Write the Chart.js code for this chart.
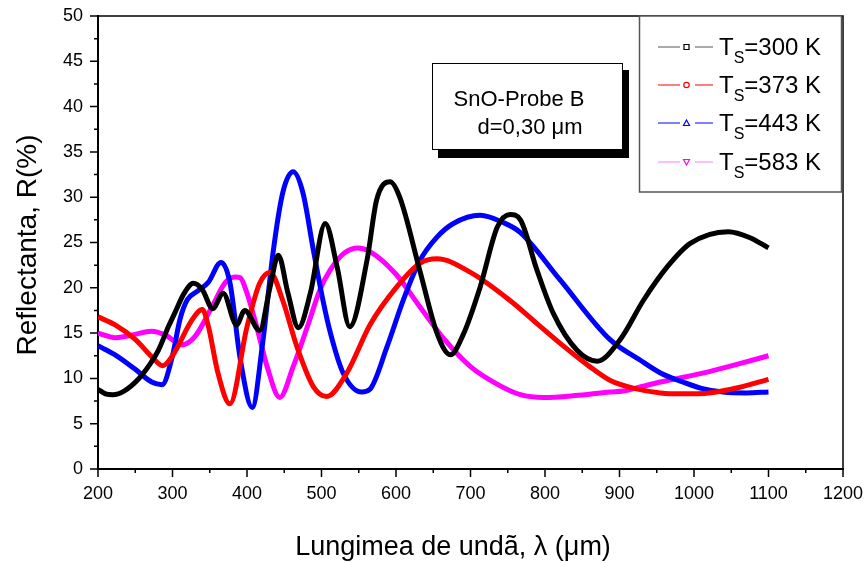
<!DOCTYPE html>
<html>
<head>
<meta charset="utf-8">
<script src="https://cdn.jsdelivr.net/npm/chart.js@4.4.1/dist/chart.umd.min.js"></script>
<style>
  html, body { margin: 0; padding: 0; background: #fff; }
  #wrap { width: 868px; height: 563px; position: relative; }
</style>
</head>
<body>
<div id="wrap"><canvas id="refl"></canvas></div>
<script>
// ---- data (wavelength, reflectance %) ----
const wl300 = [200, 210, 220, 235, 254, 270, 281, 295, 303, 315, 328, 340, 354, 368, 386, 397, 417, 431, 442, 455, 469, 485, 505, 521, 538, 561, 574, 592, 605, 632, 655, 673, 690, 713, 736, 753, 767, 789, 811, 843, 870, 901, 932, 964, 995, 1046, 1076, 1100];
const r300  = [8.8, 8.3, 8.2, 8.6, 9.9, 11.6, 13.1, 15.8, 17.2, 19.3, 20.5, 19.8, 17.7, 19.4, 15.9, 17.5, 15.3, 20.1, 23.6, 19.4, 15.6, 19.4, 27.1, 22.3, 15.7, 23.0, 29.7, 31.7, 30.0, 21.9, 15.0, 12.6, 14.8, 20.1, 26.7, 28.1, 27.5, 22.0, 17.2, 13.1, 11.9, 14.3, 18.6, 22.3, 24.9, 26.2, 25.5, 24.4];

const wl373 = [200, 223, 250, 272, 287, 300, 307, 325, 340, 348, 361, 377, 400, 417, 431, 448, 467, 489, 507, 534, 565, 601, 632, 655, 700, 753, 790, 820, 860, 887, 920, 955, 985, 1020, 1060, 1100];
const r373  = [16.8, 15.9, 14.3, 12.4, 11.4, 12.5, 13.5, 16.3, 17.6, 15.8, 10.6, 7.2, 15.7, 20.5, 21.7, 18.6, 13.5, 9.1, 8.0, 10.6, 15.9, 20.1, 22.7, 23.2, 21.7, 18.6, 16.0, 13.9, 11.3, 9.8, 8.9, 8.4, 8.3, 8.4, 9.0, 9.9];

const wl443 = [200, 223, 250, 272, 286, 300, 310, 320, 333, 348, 365, 377, 391, 407, 421, 435, 448, 462, 475, 489, 502, 512, 529, 554, 565, 588, 610, 632, 655, 677, 713, 744, 767, 820, 887, 928, 955, 985, 1010, 1039, 1070, 1100];
const r443  = [13.6, 12.6, 11.0, 9.6, 9.3, 12.5, 16.5, 18.7, 19.6, 20.6, 22.8, 20.6, 12.1, 6.8, 13.9, 23.9, 30.5, 32.8, 30.5, 24.2, 18.6, 15.0, 10.6, 8.5, 8.8, 13.5, 18.7, 23.0, 25.6, 27.1, 28.0, 27.2, 26.1, 20.9, 14.3, 12.0, 10.6, 9.6, 8.9, 8.5, 8.4, 8.5];

const wl583 = [200, 223, 246, 272, 290, 313, 330, 353, 371, 384, 391, 400, 413, 427, 444, 462, 481, 498, 512, 530, 549, 565, 600, 632, 665, 700, 735, 767, 798, 840, 887, 905, 930, 955, 1018, 1060, 1100];
const r583  = [15.0, 14.5, 14.8, 15.2, 14.8, 13.7, 14.6, 17.9, 20.6, 21.2, 21.1, 19.4, 15.7, 11.3, 7.9, 11.3, 15.7, 19.8, 22.0, 23.8, 24.4, 24.0, 21.5, 17.9, 14.3, 11.3, 9.4, 8.2, 7.9, 8.1, 8.5, 8.6, 9.1, 9.6, 10.7, 11.6, 12.5];

const seriesTemps  = ['300', '373', '443', '583'];
const seriesColors = ['#000000', '#ff0000', '#0000ff', '#ff00ff'];
const legendLines  = ['#555555', '#ff0000', '#0000ff', '#ff80ff'];
const markerShapes = ['rect', 'circle', 'triangle', 'downTriangle'];

const xTicks = [200, 300, 400, 500, 600, 700, 800, 900, 1000, 1100, 1200];
const yTicks = [0, 5, 10, 15, 20, 25, 30, 35, 40, 45, 50];

const FONT = "'Liberation Sans', Arial, sans-serif";

function pts(xs, ys) {
  return xs.map((x, i) => ({ x, y: ys[i] }));
}

const allX = [wl300, wl373, wl443, wl583];
const allY = [r300, r373, r443, r583];

const datasets = allX.map((xs, i) => ({
  label: 'TS=' + seriesTemps[i] + ' K',
  data: pts(xs, allY[i]),
  borderColor: seriesColors[i],
  borderWidth: 5,
  pointRadius: 0,
  fill: false,
  cubicInterpolationMode: 'monotone',
}));

function drawMarker(ctx, shape, x, y, color) {
  ctx.save();
  ctx.strokeStyle = color;
  ctx.lineWidth = 1.2;
  ctx.beginPath();
  if (shape === 'rect') {
    ctx.rect(x - 2.5, y - 2.5, 5, 5);
  } else if (shape === 'circle') {
    ctx.arc(x, y, 2.7, 0, Math.PI * 2);
  } else if (shape === 'triangle') {
    ctx.moveTo(x, y - 3); ctx.lineTo(x + 3, y + 2.5); ctx.lineTo(x - 3, y + 2.5); ctx.closePath();
  } else {
    ctx.moveTo(x, y + 3); ctx.lineTo(x + 3, y - 2.5); ctx.lineTo(x - 3, y - 2.5); ctx.closePath();
  }
  ctx.stroke();
  ctx.restore();
}

// frame, tick marks, titles, text box and legend
const decor = {
  id: 'decor',
  afterDraw(chart) {
    const { ctx, chartArea: a, scales: { x: xs, y: ys } } = chart;
    ctx.save();

    // top and right frame
    ctx.strokeStyle = '#000';
    ctx.lineWidth = 1.5;
    ctx.beginPath();
    ctx.moveTo(a.left, a.top); ctx.lineTo(a.right, a.top); ctx.lineTo(a.right, a.bottom);
    ctx.stroke();

    // ticks, major + minor
    ctx.lineWidth = 1.5;
    ctx.beginPath();
    for (let v = 200; v <= 1200; v += 50) {
      const px = xs.getPixelForValue(v);
      const len = v % 100 === 0 ? 8 : 4;
      ctx.moveTo(px, a.bottom); ctx.lineTo(px, a.bottom + len);
    }
    for (let v = 0; v <= 50; v += 2.5) {
      const py = ys.getPixelForValue(v);
      const len = v % 5 === 0 ? 8 : 4;
      ctx.moveTo(a.left, py); ctx.lineTo(a.left - len, py);
    }
    ctx.stroke();

    // axis titles
    ctx.fillStyle = '#000';
    ctx.textAlign = 'center';
    ctx.textBaseline = 'middle';
    ctx.font = '27px ' + FONT;
    ctx.fillText('Lungimea de undã, λ (μm)', 453, 548);
    ctx.save();
    ctx.translate(28, 245);
    ctx.rotate(-Math.PI / 2);
    ctx.font = '28px ' + FONT;
    ctx.fillText('Reflectanta, R(%)', 0, 0);
    ctx.restore();

    // sample box with shadow
    ctx.fillStyle = '#000';
    ctx.fillRect(438, 70, 191, 88);
    ctx.fillStyle = '#fff';
    ctx.fillRect(432, 63, 191, 87);
    ctx.strokeStyle = '#000';
    ctx.lineWidth = 1;
    ctx.strokeRect(432.5, 63.5, 190, 86);
    ctx.fillStyle = '#000';
    ctx.font = '22px ' + FONT;
    ctx.fillText('SnO-Probe B', 519, 100);
    ctx.fillText('d=0,30 μm', 530, 128);

    // legend box
    ctx.fillStyle = '#fff';
    ctx.fillRect(639, 16, 203, 176);
    ctx.strokeStyle = '#555';
    ctx.lineWidth = 1.5;
    ctx.strokeRect(639.5, 16, 202, 176);
    const rows = [47, 85, 123, 162];
    rows.forEach((ry, i) => {
      ctx.strokeStyle = legendLines[i];
      ctx.lineWidth = 1.2;
      ctx.beginPath();
      ctx.moveTo(658, ry); ctx.lineTo(680, ry);
      ctx.moveTo(695, ry); ctx.lineTo(713, ry);
      ctx.stroke();
      drawMarker(ctx, markerShapes[i], 686.5, ry, seriesColors[i]);
      ctx.fillStyle = '#000';
      ctx.textAlign = 'left';
      ctx.textBaseline = 'alphabetic';
      ctx.font = '24px ' + FONT;
      let tx = 719;
      ctx.fillText('T', tx, ry + 8);
      tx += ctx.measureText('T').width;
      ctx.font = '16px ' + FONT;
      ctx.fillText('S', tx, ry + 16);
      tx += ctx.measureText('S').width;
      ctx.font = '24px ' + FONT;
      ctx.fillText('=' + seriesTemps[i] + ' K', tx, ry + 8);
    });

    ctx.restore();
  }
};

new Chart(document.getElementById('refl'), {
  type: 'line',
  data: { datasets },
  options: {
    responsive: true,
    maintainAspectRatio: false,
    animation: false,
    layout: { padding: { left: 0, top: 16, right: 25, bottom: 0 } },
    plugins: { legend: { display: false }, tooltip: { enabled: false } },
    scales: {
      x: {
        type: 'linear', min: 200, max: 1200,
        afterFit: s => { s.height = 94; s.paddingLeft = 0; s.paddingRight = 0; },
        afterBuildTicks: s => { s.ticks = xTicks.map(v => ({ value: v })); },
        grid: { display: false, drawTicks: false },
        border: { display: true, color: '#000', width: 2 },
        ticks: { color: '#000', padding: 14, maxRotation: 0, autoSkip: false,
                 font: { size: 18, family: FONT }, callback: v => String(v) }
      },
      y: {
        type: 'linear', min: 0, max: 50,
        afterFit: s => { s.width = 98; s.paddingTop = 0; s.paddingBottom = 0; },
        afterBuildTicks: s => { s.ticks = yTicks.map(v => ({ value: v })); },
        grid: { display: false, drawTicks: false },
        border: { display: true, color: '#000', width: 2 },
        ticks: { color: '#000', padding: 15, font: { size: 18, family: FONT } }
      }
    }
  },
  plugins: [decor]
});
</script>
</body>
</html>
